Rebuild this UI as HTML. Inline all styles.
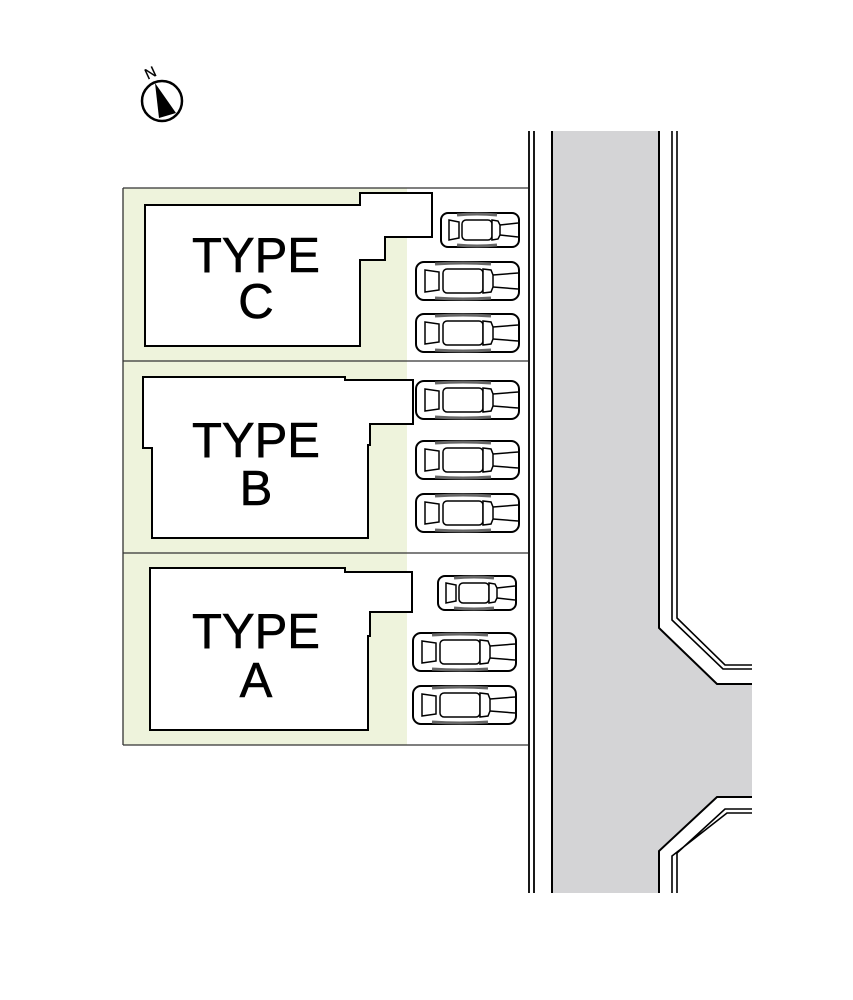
<!DOCTYPE html>
<html><head><meta charset="utf-8"><style>
html,body{margin:0;padding:0;background:#fff;}
svg{display:block}
text{font-family:"Liberation Sans",sans-serif;font-size:49px;fill:#000;text-anchor:middle;stroke:#000;stroke-width:0.6}
</style></head><body>
<svg width="853" height="1000" viewBox="0 0 853 1000" xmlns="http://www.w3.org/2000/svg">
<defs>
<g id="carL">
 <rect x="1" y="1" width="103" height="38" rx="8" fill="#fff" stroke="#000" stroke-width="2"/>
 <path d="M10 9 L24 11 L24 29 L10 31 Z" fill="#fff" stroke="#000" stroke-width="1.5"/>
 <rect x="28" y="8" width="40" height="24" rx="4" fill="#fff" stroke="#000" stroke-width="1.5"/>
 <path d="M20 3 Q48 1 76 3 M20 37 Q48 39 76 37" fill="none" stroke="#666" stroke-width="3"/>
 <path d="M68 8 L76 9 L78 14 L78 26 L76 31 L68 32 Z" fill="#fff" stroke="#000" stroke-width="1.5"/>
 <path d="M78 14 L103 12 M78 26 L103 28" stroke="#000" stroke-width="1.5"/>
</g>
<g id="carS">
 <rect x="1" y="1" width="78" height="34" rx="7" fill="#fff" stroke="#000" stroke-width="2"/>
 <path d="M9 8 L19 10 L19 26 L9 28 Z" fill="#fff" stroke="#000" stroke-width="1.5"/>
 <rect x="22" y="8" width="30" height="20" rx="4" fill="#fff" stroke="#000" stroke-width="1.5"/>
 <path d="M17 3 Q37 1 57 3 M17 33 Q37 35 57 33" fill="none" stroke="#666" stroke-width="3"/>
 <path d="M52 8 L58 9 L60 13 L60 23 L58 27 L52 28 Z" fill="#fff" stroke="#000" stroke-width="1.5"/>
 <path d="M60 13 L78 11 M60 23 L78 25" stroke="#000" stroke-width="1.5"/>
</g>
</defs>
<!-- compass -->
<circle cx="162" cy="101" r="20" fill="#fff" stroke="#000" stroke-width="2.5"/>
<path d="M155 83 L176 113 L159 118 Z" fill="#000"/>
<text x="150" y="78" style="font-size:15px;stroke-width:0.3" transform="rotate(-25 150 72)">N</text>
<!-- lots -->
<rect x="123" y="188" width="284" height="557" fill="#eef3dc"/>
<path d="M123 188 H528 M123 361 H528 M123 553 H528 M123 745 H528 M123 188 V745" stroke="#333" stroke-width="1.3" fill="none"/>
<!-- houses -->
<path d="M145 205 H360 V193 H432 V237 H385 V260 H360 V346 H145 Z" fill="#fff" stroke="#000" stroke-width="2"/>
<path d="M143 377 H345 V380 H413 V424 H370 V445 H368 V538 H152 V448 H143 Z" fill="#fff" stroke="#000" stroke-width="2"/>
<path d="M150 568 H345 V572 H412 V612 H370 V636 H368 V730 H150 Z" fill="#fff" stroke="#000" stroke-width="2"/>
<text x="256" y="272">TYPE</text><text x="256" y="318">C</text>
<text x="256" y="457">TYPE</text><text x="256" y="505">B</text>
<text x="256" y="648">TYPE</text><text x="256" y="697">A</text>
<!-- cars -->
<use href="#carS" x="440" y="212"/>
<use href="#carL" x="415" y="261"/>
<use href="#carL" x="415" y="313"/>
<use href="#carL" x="415" y="380"/>
<use href="#carL" x="415" y="440"/>
<use href="#carL" x="415" y="493"/>
<use href="#carS" x="437" y="575"/>
<use href="#carL" x="412" y="632"/>
<use href="#carL" x="412" y="685"/>
<!-- road -->
<path d="M552 131 H659 V628 L717 684 H752 V797 H717 L659 851 V893 H552 Z" fill="#d4d4d6"/>
<path d="M552 131 V893 M659 131 V628 L717 684 H752 M752 797 H717 L659 851 V893" fill="none" stroke="#000" stroke-width="2"/>
<path d="M529 131 V893 M534 131 V893" stroke="#000" stroke-width="1.8"/>
<path d="M672 131 V620 L723 669 H752 M677 131 V618 L725 665 H752" fill="none" stroke="#000" stroke-width="1.6"/>
<path d="M752 809 H725 L677 853 V893 M752 813 H727 L672 856 V893" fill="none" stroke="#000" stroke-width="1.6"/>
</svg>
</body></html>
